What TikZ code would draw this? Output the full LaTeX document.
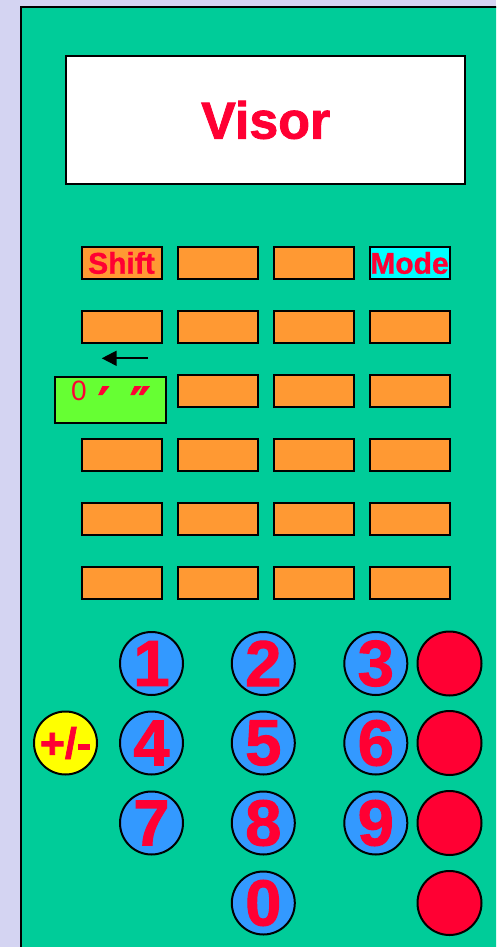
\documentclass[tikz,border=0pt]{standalone}
\usepackage{fontspec}
\setmainfont{Liberation Sans}[BoldFont={Liberation Sans Bold}]
\newfontfamily\heavyfont{Liberation Sans Bold}[FakeBold=1.6]
\newfontfamily\keyfont{Liberation Sans Bold}[FakeBold=1.0]
\newfontfamily\primefont{DejaVu Sans Bold}[FakeBold=1.5]
\usetikzlibrary{arrows.meta}
\definecolor{bgc}{RGB}{212,212,242}
\definecolor{panelc}{RGB}{0,204,153}
\definecolor{keyc}{RGB}{255,153,51}
\definecolor{txtc}{RGB}{255,0,51}
\definecolor{bluec}{RGB}{51,153,255}
\definecolor{greenkc}{RGB}{102,255,51}
\definecolor{cyanc}{RGB}{0,255,255}
\definecolor{yelc}{RGB}{255,255,0}
\tikzset{
  keybox/.style={draw=black, line width=2pt, fill=keyc, minimum width=80pt, minimum height=32pt, inner sep=0pt, text=txtc, font=\keyfont\fontsize{30}{33}\selectfont},
  numkey/.style={circle, draw=black, line width=2pt, fill=bluec, minimum size=63pt, inner sep=0pt, text=txtc, font=\heavyfont\fontsize{65}{67}\selectfont},
  redkey/.style={circle, draw=black, line width=2pt, fill=txtc, minimum size=64pt, inner sep=0pt},
}
\begin{document}
\begin{tikzpicture}[x=1pt,y=-1pt]
\clip (0,0) rectangle (496,947);
\fill[bgc] (0,0) rectangle (496,947);
\draw[line width=2pt, fill=panelc] (20.7,6.7) rectangle (540,1000);
% display
\node[draw=black, line width=2.5pt, fill=white, minimum width=399pt, minimum height=128pt, inner sep=0pt,
      text=txtc, font=\heavyfont\fontsize{52}{56}\selectfont] (visor) at (265.7,120) {Visor};
% keys
\foreach \r [count=\ri] in {327,391,455,519,583}{
  \foreach \c [count=\ci] in {121.5,217.5,313.5,409.5}{
    \ifnum\ri=2\ifnum\ci=1\else
      \node[keybox] (k\ri\ci) at (\c,\r) {};
    \fi\else
      \node[keybox] (k\ri\ci) at (\c,\r) {};
    \fi
  }
}
\node[keybox] (shift) at (121.5,263) {Shift};
\node[keybox] (k12) at (217.5,263) {};
\node[keybox] (k13) at (313.5,263) {};
\node[keybox, fill=cyanc] (mode) at (409.5,263) {Mode};
% green key
\node[draw=black, line width=2pt, fill=greenkc, minimum width=111pt, minimum height=46pt, inner sep=0pt] (dms) at (110,400) {};
\node[anchor=base west, inner sep=0pt, text=txtc, font=\fontsize{28}{30}\selectfont] (dmstext) at (71,400)
  {0\hspace{11pt}{\primefont\fontsize{46}{48}\selectfont\raisebox{-20pt}{′}\hspace{20pt}\raisebox{-20pt}{″}}};
% arrow
\coordinate (arrS) at (148,358.3);
\coordinate (arrE) at (101.7,358.3);
\draw[line width=2pt, -{Triangle[length=15pt,width=15pt]}] (arrS) -- (arrE);
% number keys
\node[numkey] (n1) at (151.5,663.5) {1};
\node[numkey] (n2) at (263.3,663.5) {2};
\node[numkey] (n3) at (375.8,663.5) {3};
\node[numkey] (n4) at (151.5,743) {4};
\node[numkey] (n5) at (263.3,743) {5};
\node[numkey] (n6) at (375.8,743) {6};
\node[numkey] (n7) at (151.5,823) {7};
\node[numkey] (n8) at (263.3,823) {8};
\node[numkey] (n9) at (375.8,823) {9};
\node[numkey] (n0) at (263.3,903) {0};
\node[circle, draw=black, line width=2pt, fill=yelc, minimum size=63pt, inner sep=0pt, text=txtc,
      font=\heavyfont\fontsize{43}{46}\selectfont] (pm) at (65.5,743) {+/-};
\node[redkey] (r1) at (449.5,663.5) {};
\node[redkey] (r2) at (449.5,743) {};
\node[redkey] (r3) at (449.5,823) {};
\node[redkey] (r4) at (449.5,903) {};
\end{tikzpicture}
\end{document}
